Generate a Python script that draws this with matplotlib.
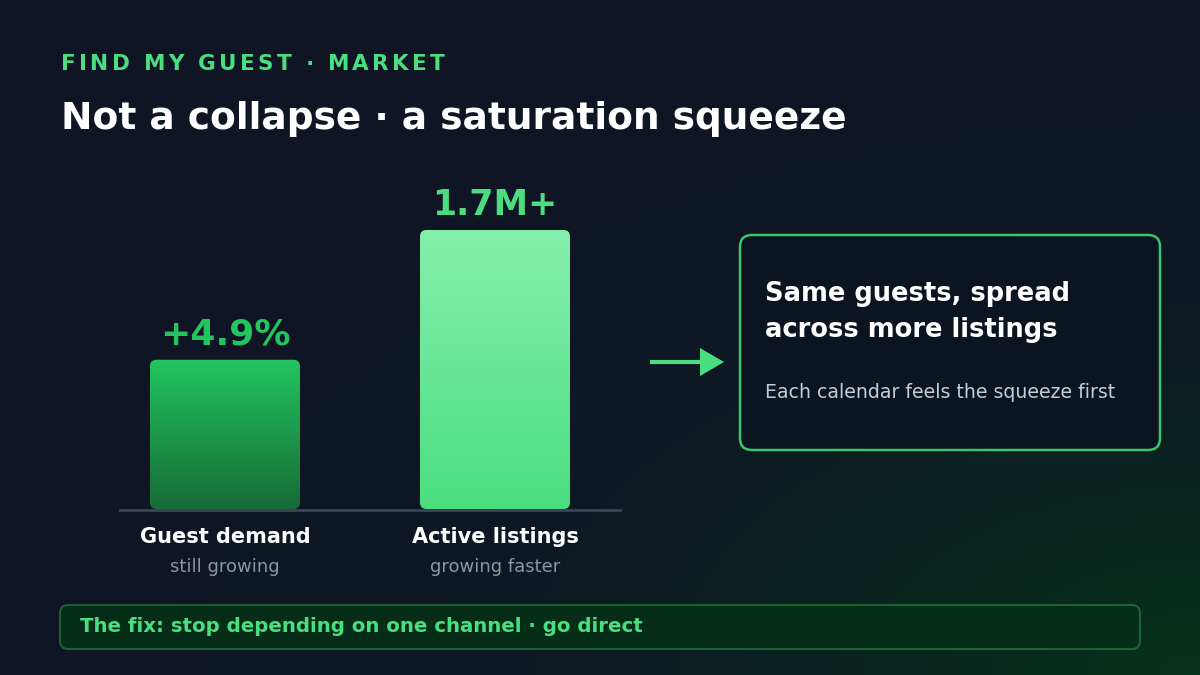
import numpy as np
import matplotlib.pyplot as plt
from matplotlib.patches import FancyBboxPatch, Polygon
from matplotlib.colors import LinearSegmentedColormap
from matplotlib.font_manager import findfont, FontProperties
from matplotlib.ft2font import FT2Font

plt.rcParams['font.family'] = ['DejaVu Sans']

# data
categories = ['Guest demand', 'Active listings']
subtitles = ['still growing', 'growing faster']
bar_heights = [0.535, 1.0]          # relative bar heights
value_labels = ['+4.9%', '1.7M+']
bar_tops = ['#22c55e', '#86efac']
bar_bottoms = ['#176b36', '#4ade80']

kicker = 'FIND MY GUEST · MARKET'
title = 'Not a collapse · a saturation squeeze'
card_title = ['Same guests, spread', 'across more listings']
card_note = 'Each calendar feels the squeeze first'
footer = 'The fix: stop depending on one channel · go direct'

GREEN = '#4ade80'
W, H = 1200, 675

fig = plt.figure(figsize=(12, 6.75), dpi=100)

# background: navy with green glow at bottom right
bg = fig.add_axes([0, 0, 1, 1])
bg.set_xlim(0, W)
bg.set_ylim(H, 0)
bg.axis('off')
yy, xx = np.mgrid[0:H, 0:W]
d = np.sqrt(((xx - W) / 1000.0) ** 2 + ((yy - H) / 560.0) ** 2)
t = np.clip(1 - d, 0, 1) ** 1.6
c0 = np.array([15, 21, 36]) / 255.0
c1 = np.array([6, 50, 26]) / 255.0
img = c0[None, None, :] * (1 - t[..., None]) + c1[None, None, :] * t[..., None]
bg.imshow(img, extent=(0, W, H, 0), aspect='auto', zorder=0)


def spaced_text(ax, x, y, s, size, spacing, **kw):
    font = FT2Font(findfont(FontProperties(family='DejaVu Sans', weight='bold')))
    font.set_size(size, 72)
    pos = x
    for ch in s:
        ax.text(pos, y, ch, fontsize=size, fontweight='bold', ha='left', va='baseline', **kw)
        g = font.load_char(ord(ch))
        pos += g.linearHoriAdvance / 65536.0 * 100 / 72 + spacing


spaced_text(bg, 61, 70, kicker, 15.5, 3.3, color=GREEN)
bg.text(61, 129, title, fontsize=27, fontweight='bold', color='white', va='baseline')

# bar chart
base_y = 509
ax_h = 1.2 * 279
ax = fig.add_axes([120 / W, (H - base_y) / H, 500 / W, ax_h / H])
ax.set_xlim(-105 / 270, 395 / 270)
ax.set_ylim(0, 1.2)
ax.axis('off')
ax.patch.set_alpha(0)
bw = 150 / 270
xs = np.arange(len(categories))
bars = ax.bar(xs, bar_heights, width=bw, color='none')
label_sizes = [26, 25]
for i, b in enumerate(bars):
    x0, h = b.get_x(), b.get_height()
    patch = FancyBboxPatch((x0, 0), bw, h, boxstyle='round,pad=0,rounding_size=0.024',
                           mutation_aspect=0.97, fc='none', ec='none', transform=ax.transData)
    ax.add_patch(patch)
    cmap = LinearSegmentedColormap.from_list('g%d' % i, [bar_bottoms[i], bar_tops[i]])
    grad = np.linspace(0, 1, 256)[:, None]
    im = ax.imshow(grad, cmap=cmap, origin='lower', extent=(x0, x0 + bw, 0, h),
                   aspect='auto', zorder=2)
    im.set_clip_path(patch)
    ax.text(xs[i], h + 0.03, value_labels[i], ha='center', va='bottom',
            fontsize=label_sizes[i], fontweight='bold', color='#22c55e' if i == 0 else GREEN)
ax.set_aspect('auto')

bg.plot([120, 620], [base_y + 1, base_y + 1], color='#3b4557', lw=2, zorder=3)
for i, cx in enumerate([225, 495]):
    bg.text(cx, 537, categories[i], ha='center', va='center', fontsize=15,
            fontweight='bold', color='white')
    bg.text(cx, 567, subtitles[i], ha='center', va='center', fontsize=13, color='#8b96a8')

# arrow
bg.plot([650, 702], [362, 362], color=GREEN, lw=3, solid_capstyle='butt', zorder=3)
bg.add_patch(Polygon([[700, 348], [724, 362], [700, 376]], closed=True, fc=GREEN, ec='none', zorder=3))

# card
bg.add_patch(FancyBboxPatch((740, 235), 420, 215, boxstyle='round,pad=0,rounding_size=12',
                            fc='#0c1422', ec='#3cc46a', lw=1.8, zorder=2))
bg.text(765, 301, card_title[0], fontsize=18.5, fontweight='bold', color='white', va='baseline', zorder=3)
bg.text(765, 337, card_title[1], fontsize=18.5, fontweight='bold', color='white', va='baseline', zorder=3)
bg.text(765, 393, card_note, fontsize=13.6, color='#c5cdd9', va='center', zorder=3)

# footer banner
bg.add_patch(FancyBboxPatch((60, 605), 1080, 44, boxstyle='round,pad=0,rounding_size=8',
                            fc='#062d18', ec='#1c6b38', lw=1.3, zorder=2))
bg.text(80, 626, footer, fontsize=14.2, fontweight='bold', color=GREEN, va='center', zorder=3)

fig.savefig('out.png', dpi=100)
